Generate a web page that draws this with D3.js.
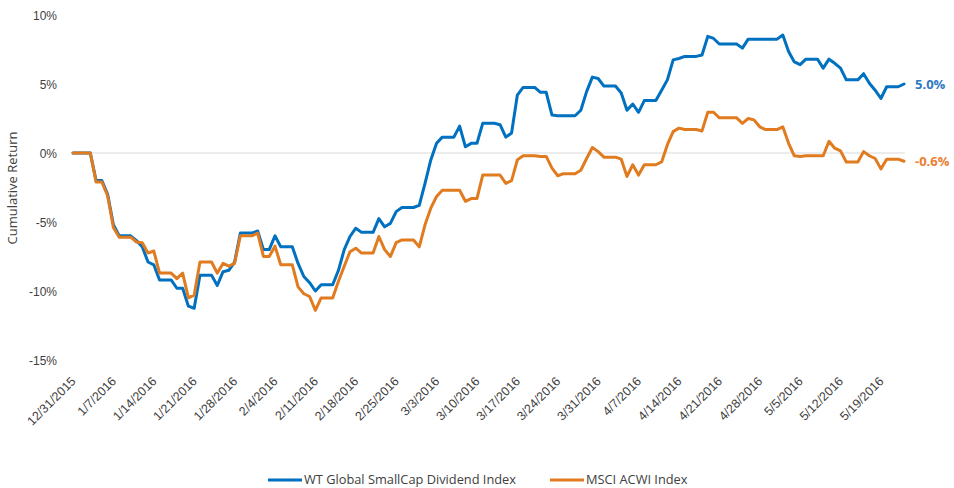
<!DOCTYPE html>
<html>
<head>
<meta charset="utf-8">
<script src="https://cdn.jsdelivr.net/npm/d3@7"></script>
<style>
  body { margin: 0; background: #fff; }
  svg { font-family: "Open Sans", "Noto Sans", sans-serif; }
  .tick text { fill: #404040; }
</style>
</head>
<body>
<div id="chart"></div>
<script>
// Daily values (weekends / holidays carry the prior close), 12/31/2015 .. 5/23/2016
// Rows: first partial week (Thu-Sun), then Mon..Sun weeks, then Mon 5/23.
const wtValues = [
  0, 0, 0, 0,
  -2.0, -2.0, -3.0, -5.2, -6.0, -6.0, -6.0,
  -6.35, -6.8, -7.9, -8.1, -9.2, -9.2, -9.2,
  -9.8, -9.8, -11.1, -11.25, -8.85, -8.85, -8.85,
  -9.6, -8.6, -8.5, -7.9, -5.8, -5.8, -5.8,
  -5.65, -7.0, -7.0, -6.0, -6.8, -6.8, -6.8,
  -8.0, -8.95, -9.4, -10.0, -9.55, -9.55, -9.55,
  -8.5, -7.0, -6.05, -5.45, -5.75, -5.75, -5.75,
  -4.75, -5.35, -5.1, -4.25, -3.95, -3.95, -3.95,
  -3.8, -2.2, -0.5, 0.7, 1.15, 1.15, 1.15,
  1.95, 0.45, 0.7, 0.7, 2.15, 2.15, 2.15,
  2.05, 1.15, 1.45, 4.2, 4.75, 4.75, 4.75,
  4.4, 4.4, 2.75, 2.7, 2.7, 2.7, 2.7,
  3.1, 4.45, 5.5, 5.4, 4.85, 4.85, 4.85,
  4.35, 3.1, 3.55, 2.95, 3.8, 3.8, 3.8,
  4.55, 5.3, 6.75, 6.85, 7.0, 7.0, 7.0,
  7.1, 8.45, 8.3, 7.9, 7.9, 7.9, 7.9,
  7.6, 8.25, 8.25, 8.25, 8.25, 8.25, 8.25,
  8.55, 7.35, 6.6, 6.4, 6.8, 6.8, 6.8,
  6.15, 6.8, 6.5, 6.15, 5.3, 5.3, 5.3,
  5.75, 5.05, 4.55, 3.95, 4.8, 4.8, 4.8,
  5.0
];
const acwiValues = [
  0, 0, 0, 0,
  -2.1, -2.1, -3.1, -5.4, -6.1, -6.1, -6.1,
  -6.45, -6.5, -7.25, -7.1, -8.7, -8.7, -8.7,
  -9.1, -8.7, -10.5, -10.3, -7.9, -7.9, -7.9,
  -8.7, -8.0, -8.2, -8.0, -6.0, -6.0, -6.0,
  -5.8, -7.5, -7.5, -6.75, -8.1, -8.1, -8.1,
  -9.7, -10.2, -10.4, -11.4, -10.5, -10.5, -10.5,
  -9.3, -8.2, -7.15, -6.9, -7.25, -7.25, -7.25,
  -6.05, -7.0, -7.5, -6.5, -6.3, -6.3, -6.3,
  -6.8, -5.2, -4.0, -3.15, -2.7, -2.7, -2.7,
  -2.7, -3.5, -3.3, -3.3, -1.6, -1.6, -1.6,
  -1.6, -2.2, -2.0, -0.5, -0.2, -0.2, -0.2,
  -0.25, -0.25, -1.1, -1.65, -1.5, -1.5, -1.5,
  -1.25, -0.4, 0.4, 0.1, -0.3, -0.3, -0.3,
  -0.45, -1.7, -0.85, -1.6, -0.85, -0.85, -0.85,
  -0.65, 0.6, 1.55, 1.8, 1.7, 1.7, 1.7,
  1.6, 2.95, 2.95, 2.55, 2.55, 2.55, 2.55,
  2.15, 2.5, 2.4, 1.9, 1.7, 1.7, 1.7,
  1.9, 0.7, -0.2, -0.25, -0.2, -0.2, -0.2,
  -0.2, 0.85, 0.35, 0.15, -0.65, -0.65, -0.65,
  0.1, -0.2, -0.4, -1.15, -0.45, -0.45, -0.45,
  -0.6
];
const seriesNames = ["WT Global SmallCap Dividend Index", "MSCI ACWI Index"];
const endLabels = ["5.0%", "-0.6%"];
const yTicks = [10, 5, 0, -5, -10, -15];

const startDate = new Date(2015, 11, 31);
const endDate = new Date(2016, 4, 23);
const dates = d3.timeDay.range(startDate, d3.timeDay.offset(endDate, 1));
const xTicks = d3.timeThursday.range(startDate, endDate); // weekly, 12/31 .. 5/19

const width = 954, height = 488;
const colors = ["#0070c0", "#e07b20"];
const labelColors = ["#2e78c2", "#ed7d31"];

const x = d3.scaleTime().domain([startDate, endDate]).range([73, 904]);
const y = d3.scaleLinear().domain([-15, 10]).range([360, 15]);

const svg = d3.select("#chart").append("svg")
  .attr("width", width)
  .attr("height", height);

// zero line
svg.append("line")
  .attr("x1", x(startDate)).attr("x2", x(endDate) + 1)
  .attr("y1", y(0)).attr("y2", y(0))
  .attr("stroke", "#d9d9d9").attr("stroke-width", 1);

// y axis (labels only)
const yAxis = d3.axisLeft(y)
  .tickValues(yTicks)
  .tickSize(0)
  .tickPadding(0)
  .tickFormat(d => d + "%");
svg.append("g")
  .attr("transform", "translate(57,0)")
  .call(yAxis)
  .call(g => g.select(".domain").remove())
  .selectAll("text")
  .attr("font-size", 12)
  .attr("dy", "0.35em");

svg.append("text")
  .attr("transform", "translate(17,188) rotate(-90)")
  .attr("text-anchor", "middle")
  .attr("font-size", 13)
  .attr("fill", "#404040")
  .text("Cumulative Return");

// x axis (rotated labels only)
const fmt = d3.timeFormat("%-m/%-d/%Y");
const xAxis = d3.axisBottom(x)
  .tickValues(xTicks)
  .tickSize(0)
  .tickFormat(fmt);
svg.append("g")
  .attr("transform", "translate(0,370)")
  .call(xAxis)
  .call(g => g.select(".domain").remove())
  .selectAll("text")
  .attr("font-size", 12.5)
  .attr("text-anchor", "end")
  .attr("dy", 0)
  .attr("y", 0)
  .attr("transform", "translate(3,12) rotate(-45)");

// lines
const line = d3.line()
  .x((d, i) => x(dates[i]))
  .y(d => y(d));

[wtValues, acwiValues].forEach((vals, k) => {
  svg.append("path")
    .datum(vals)
    .attr("fill", "none")
    .attr("stroke", colors[k])
    .attr("stroke-width", 3)
    .attr("stroke-linejoin", "round")
    .attr("stroke-linecap", "round")
    .attr("d", line);
});

// end labels
[wtValues, acwiValues].forEach((vals, k) => {
  svg.append("text")
    .attr("x", 915)
    .attr("y", y(vals[vals.length - 1]))
    .attr("dy", "0.35em")
    .attr("font-size", 13)
    .attr("font-weight", "bold")
    .attr("fill", labelColors[k])
    .text(endLabels[k]);
});

// legend
const legendX = [268, 550];
const legend = svg.append("g");
seriesNames.forEach((name, k) => {
  legend.append("line")
    .attr("x1", legendX[k]).attr("x2", legendX[k] + 34)
    .attr("y1", 480).attr("y2", 480)
    .attr("stroke", colors[k]).attr("stroke-width", 3);
  legend.append("text")
    .attr("x", legendX[k] + 36)
    .attr("y", 480)
    .attr("dy", "0.35em")
    .attr("font-size", 12.8)
    .attr("fill", "#404040")
    .text(name);
});
</script>
</body>
</html>
